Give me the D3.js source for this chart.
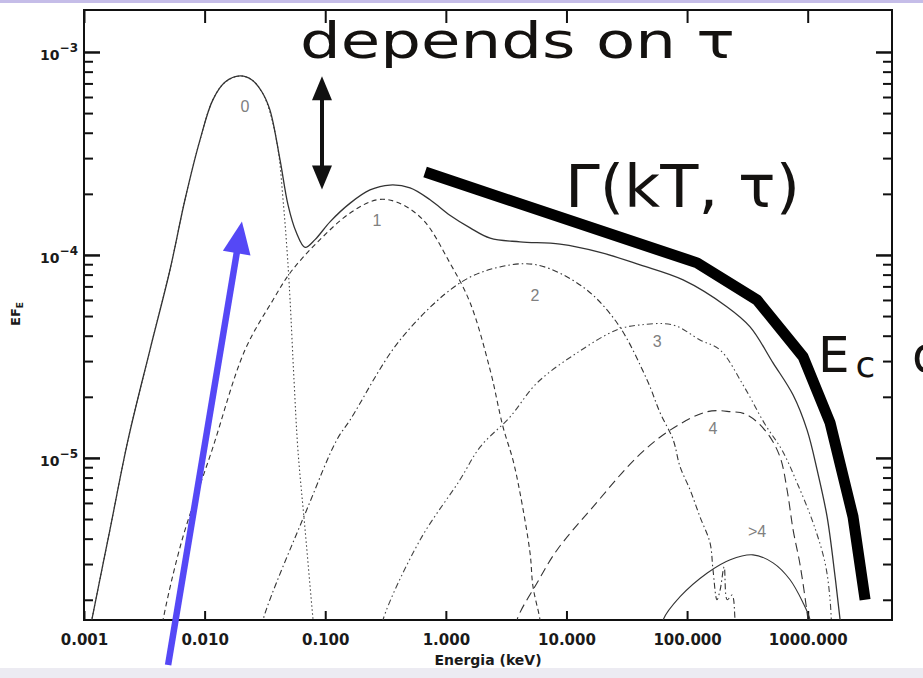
<!DOCTYPE html>
<html><head><meta charset="utf-8">
<script src="https://cdn.jsdelivr.net/npm/d3@7"></script>
<style>html,body{margin:0;padding:0;background:#fff;overflow:hidden}</style>
</head><body>
<svg id="chart" width="923" height="678" xmlns="http://www.w3.org/2000/svg"></svg>
<script>
// ---------------- DATA (energy keV, E*F_E) ----------------
const energyTicks = [0.001, 0.01, 0.1, 1, 10, 100, 1000];
const energyTickLabels = ["0.001", "0.010", "0.100", "1.000", "10.000", "100.000", "1000.000"];
const fluxMajorTicks = [1e-3, 1e-4, 1e-5];
const fluxMajorExponents = ["\u22123", "\u22124", "\u22125"];

const totalSpectrum = [[0.00112,1.42e-6],[0.00116,1.59e-6],[0.00164,4.42e-6],[0.00232,1.23e-5],[0.00352,3.40e-5],[0.00516,8.43e-5],[0.00687,1.87e-4],[0.00916,3.69e-4],[0.0117,5.81e-4],[0.0148,7.11e-4],[0.0197,7.62e-4],[0.0247,7.28e-4],[0.0299,6.35e-4],[0.0348,5.18e-4],[0.0422,2.94e-4],[0.0492,1.76e-4],[0.0573,1.30e-4],[0.0681,1.09e-4],[0.0823,1.19e-4],[0.110,1.46e-4],[0.161,1.80e-4],[0.235,2.09e-4],[0.344,2.21e-4],[0.505,2.14e-4],[0.740,1.87e-4],[1.08,1.57e-4],[1.59,1.36e-4],[2.33,1.21e-4],[4.12,1.16e-4],[8.85,1.13e-4],[19.0,1.03e-4],[40.8,8.93e-5],[92.7,7.53e-5],[215,5.54e-5],[333,4.42e-5],[516,2.94e-5],[757,2.04e-5],[989,1.37e-5],[1197,8.73e-6],[1449,5.12e-6],[1688,2.59e-6],[1857,1.59e-6],[1928,1.27e-6]];

const order0 = [[0.00112,1.42e-6],[0.00116,1.59e-6],[0.00164,4.42e-6],[0.00232,1.23e-5],[0.00352,3.40e-5],[0.00516,8.43e-5],[0.00687,1.87e-4],[0.00916,3.69e-4],[0.0117,5.81e-4],[0.0148,7.11e-4],[0.0197,7.62e-4],[0.0247,7.28e-4],[0.0299,6.35e-4],[0.0348,5.06e-4],[0.0407,3.29e-4],[0.0447,1.87e-4],[0.0482,1.06e-4],[0.0511,6.00e-5],[0.0551,2.42e-5],[0.0594,1.09e-5],[0.0681,4.42e-6],[0.0793,1.59e-6],[0.0823,1.27e-6]];

const order1 = [[0.00427,1.27e-6],[0.00452,1.59e-6],[0.00650,3.94e-6],[0.0115,1.09e-5],[0.0216,3.40e-5],[0.0369,6.00e-5],[0.0511,8.15e-5],[0.0855,1.15e-4],[0.161,1.61e-4],[0.269,1.87e-4],[0.394,1.82e-4],[0.647,1.49e-4],[1.08,9.14e-5],[1.59,5.81e-5],[2.33,2.71e-5],[2.98,1.42e-5],[3.60,9.77e-6],[4.12,6.73e-6],[4.99,3.40e-6],[5.28,2.32e-6],[6.04,1.59e-6],[6.28,1.27e-6]];

const order2 = [[0.0288,1.27e-6],[0.0305,1.59e-6],[0.0719,5.74e-6],[0.125,1.23e-5],[0.161,1.54e-5],[0.417,3.81e-5],[1.31,7.28e-5],[2.81,8.73e-5],[5.70,8.93e-5],[13.7,6.95e-5],[26.3,4.62e-5],[46.6,2.42e-5],[59.7,1.67e-5],[76.6,1.23e-5],[87.5,9.04e-6],[106,6.95e-6],[128,5.12e-6],[155,3.81e-6],[164,2.81e-6],[177,2.00e-6],[188,2.24e-6],[203,2.90e-6],[215,2.00e-6],[236,2.11e-6],[250,1.59e-6],[257,1.27e-6]];

const order3 = [[0.284,1.27e-6],[0.301,1.59e-6],[0.611,3.94e-6],[1.31,7.80e-6],[1.92,1.13e-5],[3.40,1.59e-5],[5.70,2.34e-5],[12.2,3.29e-5],[26.3,4.28e-5],[40.8,4.52e-5],[76.6,4.52e-5],[128,3.81e-5],[188,3.40e-5],[291,2.29e-5],[444,1.46e-5],[614,1.09e-5],[817,7.53e-6],[1109,4.79e-6],[1393,3.04e-6],[1533,2.00e-6],[1592,1.27e-6]];

const order4 = [[3.75,1.27e-6],[3.89,1.59e-6],[5.70,2.42e-6],[8.36,3.52e-6],[16.6,5.74e-6],[38.5,1.01e-5],[72.3,1.37e-5],[147,1.69e-5],[228,1.69e-5],[315,1.63e-5],[460,1.33e-5],[590,1.01e-5],[675,6.95e-6],[757,4.42e-6],[865,2.97e-6],[1006,1.59e-6],[1047,1.27e-6]];

const orderHigh = [[59.7,1.27e-6],[63.2,1.59e-6],[87.5,2.07e-6],[147,2.71e-6],[228,3.15e-6],[352,3.33e-6],[516,3.04e-6],[714,2.51e-6],[916,1.93e-6],[1047,1.59e-6],[1093,1.27e-6]];

const gammaSketch = [[0.673,2.56e-4],[121,9.14e-5],[380,6.00e-5],[916,3.15e-5],[1533,1.49e-5],[2377,5.12e-6],[2992,2.00e-6]];

const curveLabels = ["0", "1", "2", "3", "4", ">4"];
const curveLabelAnchors = [[0.0216,5.3e-4],[0.269,1.46e-4],[5.49,6.2e-5],[56.4,3.69e-5],[164,1.37e-5],[380,4.27e-6]];

// annotation anchors (data space)
const blueArrow = [[0.00498,9.55e-7],[0.0204,1.46e-4]];
const tauArrow = [[0.094,7.6e-4],[0.094,2.1e-4]];

// ---------------- DRAWING ----------------
const W = 923, H = 678;
const X0 = 84, X1 = 892, Y0 = 10, Y1 = 620;
const x = d3.scaleLog().domain([0.001, 5000]).range([X0, X1]);
const y = d3.scaleLog().domain([1.59e-6, 1.61e-3]).range([Y1, Y0]);
const svg = d3.select("#chart");

svg.append("rect").attr("x",0).attr("y",0).attr("width",W).attr("height",H).attr("fill","#fff");
svg.append("rect").attr("x",0).attr("y",0).attr("width",W).attr("height",3).attr("fill","#c5bde8");
svg.append("rect").attr("x",0).attr("y",668).attr("width",W).attr("height",10).attr("fill","#ecebf2");

svg.append("defs").append("clipPath").attr("id","plotclip")
  .append("rect").attr("x",X0).attr("y",Y0).attr("width",X1-X0).attr("height",Y1-Y0);

// minor flux ticks
const fluxMinorTicks = [];
for (let e = -6; e <= -3; e++) for (let m = 2; m <= 9; m++) {
  const v = m * Math.pow(10, e);
  if (v > y.domain()[0] && v < y.domain()[1]) fluxMinorTicks.push(v);
}

function styleAxis(g, w) {
  g.select(".domain").remove();
  g.selectAll(".tick line").attr("stroke","#111").attr("stroke-width", w);
}

const tickFont = "DejaVu Sans, sans-serif";
const gb = svg.append("g").attr("transform",`translate(0,${Y1})`)
  .call(d3.axisBottom(x).tickValues(energyTicks).tickFormat((d,i)=>energyTickLabels[i])
    .tickSizeInner(-9).tickSizeOuter(0).tickPadding(14));
styleAxis(gb, 2);
gb.selectAll("text").attr("font-family",tickFont).attr("font-size",15).attr("font-weight","bold").attr("fill","#1a1a1a");

const gt = svg.append("g").attr("transform",`translate(0,${Y0})`)
  .call(d3.axisTop(x).tickValues(energyTicks).tickFormat("").tickSizeInner(-13).tickSizeOuter(0));
styleAxis(gt, 2);

[[d3.axisLeft, X0], [d3.axisRight, X1]].forEach(([ax, pos]) => {
  const gM = svg.append("g").attr("transform",`translate(${pos},0)`)
    .call(ax(y).tickValues(fluxMajorTicks).tickFormat("").tickSizeInner(-16).tickSizeOuter(0));
  styleAxis(gM, 2.5);
  const gm = svg.append("g").attr("transform",`translate(${pos},0)`)
    .call(ax(y).tickValues(fluxMinorTicks).tickFormat("").tickSizeInner(-9).tickSizeOuter(0));
  styleAxis(gm, 2);
});

// y tick labels 10^-n
fluxMajorTicks.forEach((v, i) => {
  const t = svg.append("text").attr("x", 78).attr("y", y(v) + 8)
    .attr("text-anchor","end").attr("font-family",tickFont).attr("font-weight","bold")
    .attr("font-size",14).attr("fill","#1a1a1a");
  t.append("tspan").text("10");
  t.append("tspan").attr("dy",-8).attr("font-size",12).text(fluxMajorExponents[i]);
});

// frame
svg.append("rect").attr("x",X0).attr("y",Y0).attr("width",X1-X0).attr("height",Y1-Y0)
  .attr("fill","none").attr("stroke","#111").attr("stroke-width",2);

// axis titles
svg.append("text").attr("x",(X0+X1)/2).attr("y",665).attr("text-anchor","middle")
  .attr("font-family",tickFont).attr("font-weight","bold").attr("font-size",14).attr("fill","#1a1a1a")
  .text("Energia (keV)");
const yt = svg.append("text").attr("transform","translate(20,326) rotate(-90)")
  .attr("font-family",tickFont).attr("font-weight","bold").attr("font-size",13).attr("fill","#1a1a1a");
yt.append("tspan").text("EF");
yt.append("tspan").attr("dy",3).attr("font-size",9).text("E");

// curves
const line = d3.line().x(d => x(d[0])).y(d => y(d[1])).curve(d3.curveCatmullRom.alpha(0.5));
const plot = svg.append("g").attr("clip-path","url(#plotclip)");
const series = [
  {data: order0, dash: "1.5,2.5", color: "#444", w: 1.1},
  {data: order1, dash: "5,3.5", color: "#333", w: 1.1},
  {data: order2, dash: "6,3,1.5,3", color: "#333", w: 1.1},
  {data: order3, dash: "6,3,1.5,3,1.5,3", color: "#444", w: 1.1},
  {data: order4, dash: "9,5", color: "#333", w: 1.1},
  {data: orderHigh, dash: null, color: "#333", w: 1.1},
  {data: totalSpectrum, dash: null, color: "#333", w: 1.3}
];
series.forEach(s => {
  plot.append("path").datum(s.data).attr("d", line).attr("fill","none")
    .attr("stroke", s.color).attr("stroke-width", s.w)
    .attr("stroke-dasharray", s.dash);
});

// curve labels
curveLabels.forEach((lab, i) => {
  svg.append("text").attr("x", x(curveLabelAnchors[i][0])).attr("y", y(curveLabelAnchors[i][1]))
    .attr("text-anchor","middle").attr("dominant-baseline","middle")
    .attr("font-family","Liberation Sans, sans-serif").attr("font-size",16).attr("fill","#808080")
    .text(lab);
});

// thick sketch line
svg.append("path").datum(gammaSketch)
  .attr("d", d3.line().x(d => x(d[0])).y(d => y(d[1])))
  .attr("fill","none").attr("stroke","#000").attr("stroke-width",11).attr("stroke-linejoin","round");

// arrows
function arrowHead(tip, from, len, half, color) {
  const dx = tip[0]-from[0], dy = tip[1]-from[1], L = Math.hypot(dx,dy);
  const ux = dx/L, uy = dy/L, bx = tip[0]-ux*len, by = tip[1]-uy*len;
  svg.append("path").attr("d", `M${tip[0]},${tip[1]}L${bx-uy*half},${by+ux*half}L${bx+uy*half},${by-ux*half}Z`)
    .attr("fill", color);
}
// tau double arrow
{
  const a = [x(tauArrow[0][0]), y(tauArrow[0][1])], b = [x(tauArrow[1][0]), y(tauArrow[1][1])];
  svg.append("line").attr("x1",a[0]).attr("y1",a[1]+15).attr("x2",b[0]).attr("y2",b[1]-15)
    .attr("stroke","#111").attr("stroke-width",4);
  arrowHead(a, b, 24, 10, "#111");
  arrowHead(b, a, 24, 10, "#111");
}
// blue arrow
{
  const a = [x(blueArrow[0][0]), y(blueArrow[0][1])], b = [x(blueArrow[1][0]), y(blueArrow[1][1])];
  const L = Math.hypot(b[0]-a[0], b[1]-a[1]);
  const ex = b[0]-(b[0]-a[0])/L*20, ey = b[1]-(b[1]-a[1])/L*20;
  svg.append("line").attr("x1",a[0]).attr("y1",a[1]).attr("x2",ex).attr("y2",ey)
    .attr("stroke","#5548f6").attr("stroke-width",6.5);
  arrowHead(b, a, 32, 14, "#5548f6");
}

// handwritten annotations
const hand = "DejaVu Sans, sans-serif";
svg.append("text").attr("x",300).attr("y",58).attr("font-family",hand).attr("font-size",50)
  .attr("fill","#141210").attr("textLength",435).attr("lengthAdjust","spacingAndGlyphs").text("depends on \u03c4");
svg.append("text").attr("x",565).attr("y",207).attr("font-family",hand).attr("font-size",58)
  .attr("fill","#141210").attr("textLength",235).attr("lengthAdjust","spacingAndGlyphs").text("\u0393(kT, \u03c4)");
const ec = svg.append("text").attr("x",818).attr("y",372).attr("font-family",hand).attr("font-size",50)
  .attr("fill","#141210");
ec.append("tspan").text("E");
ec.append("tspan").attr("dx",6).attr("dy",5).attr("font-size",36).text("c");
ec.append("tspan").attr("x",912).attr("dy",-5).text("depends");
</script>
</body></html>
